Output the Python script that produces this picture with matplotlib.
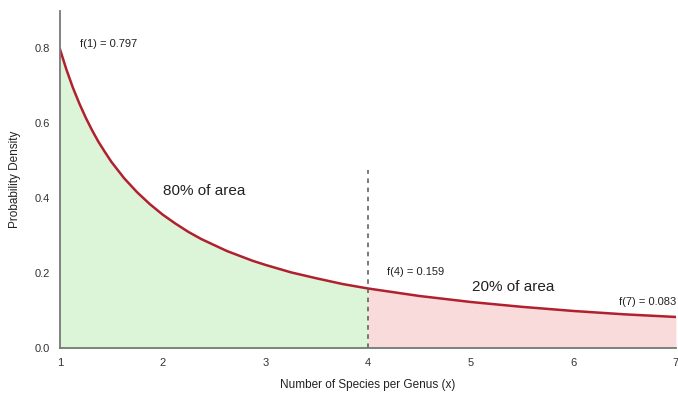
import numpy as np
import matplotlib.pyplot as plt

plt.rcParams['font.family'] = ['Liberation Sans', 'DejaVu Sans']

# values
x_vals = [1.0, 1.0625, 1.125, 1.1875, 1.25, 1.3125, 1.375, 1.4375, 1.5,
          1.625, 1.75, 1.875, 2.0, 2.125, 2.25, 2.375, 2.5, 2.625, 2.75, 2.875,
          3.0, 3.25, 3.5, 3.75, 4.0,
          4.5, 5.0, 5.5, 6.0, 6.5, 7.0]
density = [0.797, 0.743, 0.695, 0.653, 0.615, 0.581, 0.550, 0.523, 0.497,
           0.453, 0.416, 0.384, 0.356, 0.332, 0.310, 0.291, 0.275, 0.259, 0.246, 0.233,
           0.222, 0.202, 0.186, 0.171, 0.159,
           0.139, 0.123, 0.110, 0.099, 0.090, 0.083]
split_x = 4
x_ticks = [1, 2, 3, 4, 5, 6, 7]
y_ticks = [0.0, 0.2, 0.4, 0.6, 0.8]

x = np.array(x_vals)
y = np.array(density)

fig = plt.figure(figsize=(6.78, 3.96), dpi=100)
ax = fig.add_axes([0.0885, 0.121, 0.9085, 0.852])

left = x <= split_x
right = x >= split_x
ax.fill_between(x[left], 0, y[left], color='#dcf5d8', lw=0)
ax.fill_between(x[right], 0, y[right], color='#fadbdc', lw=0)
ax.plot(x, y, color='#b0202e', lw=1.8, solid_joinstyle='round')

# dashed split line
ax.plot([split_x, split_x], [0, 0.475], color='#555555', lw=1.1, ls=(0, (3, 3)))

# annotations
ax.text(1.19, 0.81, f'f(1) = {density[0]}', fontsize=8, color='#222222', va='center')
ax.text(2.0, 0.42, '80% of area', fontsize=11, color='#222222', va='center')
ax.text(4.19, 0.203, f'f(4) = {density[24]}', fontsize=8, color='#222222', va='center')
ax.text(5.01, 0.163, '20% of area', fontsize=11, color='#222222', va='center')
ax.text(7.0, 0.123, f'f(7) = {density[-1]}', fontsize=8, color='#222222', va='center', ha='right')

ax.set_xlim(1, 7)
ax.set_ylim(0, 0.9)
ax.set_xticks(x_ticks)
ax.set_yticks(y_ticks)
ax.set_yticklabels([f'{v:.1f}' for v in y_ticks])
ax.tick_params(length=0, labelsize=8, colors='#333333', pad=7)

for s in ['top', 'right']:
    ax.spines[s].set_visible(False)
ax.spines['left'].set_color('#777777')
ax.spines['bottom'].set_color('#6f7f6f')
ax.spines['left'].set_linewidth(1.3)
ax.spines['bottom'].set_linewidth(1.3)

ax.set_xlabel('Number of Species per Genus (x)', fontsize=8.5, color='#222222', labelpad=8)
ax.set_ylabel('Probability Density', fontsize=8.5, color='#222222', labelpad=10)

fig.savefig('out.png', dpi=100)
